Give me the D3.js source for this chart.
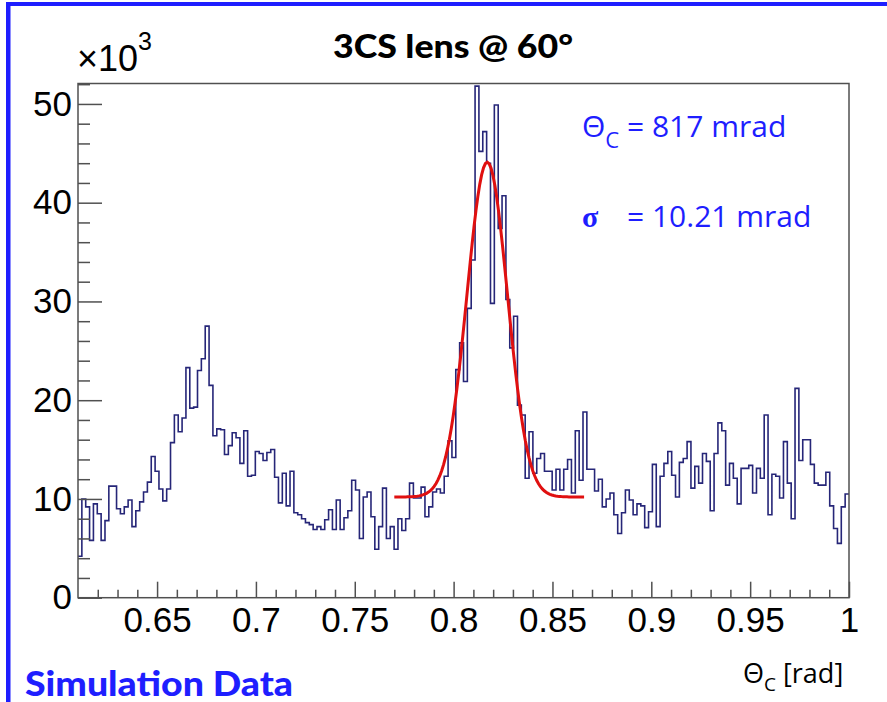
<!DOCTYPE html>
<html>
<head>
<meta charset="utf-8">
<script src="https://cdn.jsdelivr.net/npm/d3@7"></script>
<style>
  html, body { margin: 0; padding: 0; background: #ffffff; }
  svg { display: block; }
</style>
</head>
<body>
<svg id="chart" width="887" height="702"></svg>
<script>
// ---------------- data ----------------
const histRange = [0.61, 1.0];          // histogram x range [rad], 200 bins
const counts = [                          // entries per bin (x10^3)
  4.2, 10.0, 9.2, 5.8, 9.5, 8.5, 5.8, 7.8, 11.3, 11.3,
  9.0, 8.5, 9.2, 9.9, 7.2, 8.8, 9.7, 10.7, 11.7, 14.3,
  12.8, 11.0, 9.8, 11.0, 15.7, 18.5, 16.8, 18.2, 23.3, 19.2,
  19.3, 23.0, 24.2, 27.5, 21.5, 16.4, 17.1, 17.0, 14.5, 15.4,
  16.7, 16.2, 13.6, 16.9, 12.3, 12.4, 14.8, 14.6, 13.9, 14.7,
  15.0, 12.2, 9.6, 12.6, 9.3, 12.8, 8.6, 8.4, 8.0, 7.6,
  7.4, 6.9, 7.2, 6.9, 7.9, 8.9, 6.9, 9.9, 6.9, 8.1,
  8.8, 11.9, 10.9, 6.0, 10.2, 10.7, 8.2, 4.9, 7.2, 11.1,
  6.0, 7.2, 4.9, 8.0, 6.8, 8.0, 11.6, 10.1, 10.1, 11.2,
  8.2, 9.2, 10.7, 11.0, 10.6, 12.3, 15.9, 14.2, 23.1, 25.8,
  21.9, 29.3, 34.2, 51.8, 45.2, 47.2, 44.0, 29.8, 49.9, 37.4,
  40.7, 30.2, 25.3, 28.5, 19.5, 18.5, 12.1, 16.8, 12.6, 14.1,
  14.6, 12.8, 12.8, 10.9, 13.0, 10.9, 13.0, 14.0, 10.6, 16.9,
  11.9, 18.8, 13.0, 13.0, 10.8, 12.0, 9.2, 10.0, 10.6, 8.4,
  6.5, 8.6, 10.9, 9.9, 8.4, 9.5, 9.3, 7.1, 8.7, 13.5,
  7.2, 12.3, 13.6, 14.8, 12.4, 10.2, 13.7, 14.1, 15.8, 11.1,
  13.3, 11.6, 14.6, 13.8, 8.8, 14.6, 17.7, 16.9, 11.4, 13.6,
  12.1, 9.5, 13.1, 13.1, 13.4, 10.6, 13.1, 12.1, 18.5, 8.4,
  12.5, 12.3, 10.1, 15.8, 11.6, 8.0, 21.2, 13.9, 16.0, 16.0,
  13.5, 11.6, 11.4, 11.4, 12.7, 9.3, 7.0, 5.5, 9.2, 10.5
];
const xTickValues = [0.65, 0.7, 0.75, 0.8, 0.85, 0.9, 0.95, 1.0];
const xTickLabels = ["0.65", "0.7", "0.75", "0.8", "0.85", "0.9", "0.95", "1"];
const yTickValues = [0, 10, 20, 30, 40, 50];
const yTickLabels = ["0", "10", "20", "30", "40", "50"];
const yMax = 52.07;
const fitMean = 0.817, fitSigma = 0.01021, fitPeak = 33.9, fitBase = 10.2;
const fitRange = [0.77, 0.866];
const titleText = "3CS lens @ 60°";
const labelTheta = "= 817 mrad";
const labelSigma = "= 10.21 mrad";
const footerText = "Simulation Data";

// ---------------- layout ----------------
const svg = d3.select("#chart");
const L = 78, R = 849, T = 83.5, B = 597.7;
const blue = "#1e1eff";
const x = d3.scaleLinear().domain(histRange).range([L, R]);
const y = d3.scaleLinear().domain([0, yMax]).range([B, T]);

svg.append("rect").attr("width", 887).attr("height", 702).attr("fill", "#fff");

// blue slide border
svg.append("rect").attr("x", 6).attr("y", 2).attr("width", 881).attr("height", 4).attr("fill", blue);
svg.append("rect").attr("x", 6).attr("y", 2).attr("width", 4.5).attr("height", 700).attr("fill", blue);

// histogram
const nb = counts.length;
const bw = (histRange[1] - histRange[0]) / nb;
const stepPts = counts.map((c, i) => [histRange[0] + i * bw, c]);
stepPts.push([histRange[1], counts[nb - 1]]);
const stepLine = d3.line().x(d => x(d[0])).y(d => y(d[1])).curve(d3.curveStepAfter);
svg.append("path").attr("d", stepLine(stepPts))
  .attr("fill", "none").attr("stroke", "#262678").attr("stroke-width", 1.6);

// fit curve
const fitX = d3.range(0, 101).map(k => fitRange[0] + k * (fitRange[1] - fitRange[0]) / 100);
const fitPts = fitX.map(v => [v, fitBase + fitPeak * Math.exp(-0.5 * Math.pow((v - fitMean) / fitSigma, 2))]);
svg.append("path").attr("d", d3.line().x(d => x(d[0])).y(d => y(d[1]))(fitPts))
  .attr("fill", "none").attr("stroke", "#e01010").attr("stroke-width", 3);

// axes
const axisColor = "#505050";
const tickFont = "'Liberation Sans', Arial, Helvetica, sans-serif";

svg.append("g").attr("transform", `translate(${L},0)`)
  .call(d3.axisLeft(y).tickValues(yTickValues).tickSize(-24).tickPadding(6)
    .tickFormat((d, i) => yTickLabels[i]));
const yMinorVals = d3.range(0, 53, 2).filter(v => v % 10 !== 0 && v <= yMax);
svg.append("g").attr("transform", `translate(${L},0)`)
  .call(d3.axisLeft(y).tickValues(yMinorVals).tickSize(-12).tickFormat(""));

svg.append("g").attr("transform", `translate(0,${B})`)
  .call(d3.axisBottom(x).tickValues(xTickValues).tickSize(-16).tickPadding(9)
    .tickFormat((d, i) => xTickLabels[i]));
const xMinorVals = d3.range(62, 100).map(v => v / 100).filter(v => Math.round(v * 100) % 5 !== 0);
svg.append("g").attr("transform", `translate(0,${B})`)
  .call(d3.axisBottom(x).tickValues(xMinorVals).tickSize(-8).tickFormat(""));

svg.selectAll(".domain").remove();
svg.selectAll(".tick line").attr("stroke", axisColor).attr("stroke-width", 1.5);
svg.selectAll(".tick text").attr("fill", "#000").style("font-family", tickFont).style("font-size", "35px");

// frame
svg.append("rect").attr("x", L).attr("y", T).attr("width", R - L).attr("height", B - T)
  .attr("fill", "none").attr("stroke", axisColor).attr("stroke-width", 1.5);

// x10^3 multiplier
const mult = svg.append("text").attr("x", 77).attr("y", 71)
  .style("font-family", tickFont).style("font-size", "36px").attr("fill", "#000");
mult.append("tspan").text("×10");
mult.append("tspan").attr("dy", -21).style("font-size", "25px").text("3");

// title
svg.append("text").attr("x", 333).attr("y", 58)
  .attr("textLength", 240).attr("lengthAdjust", "spacingAndGlyphs")
  .style("font-family", "Lato, 'Open Sans', sans-serif").style("font-weight", "900")
  .style("font-size", "33px").attr("fill", "#000").text(titleText);

// fit annotations
const annFont = "'Open Sans', 'Noto Sans', sans-serif";
const a1 = svg.append("text").attr("x", 582).attr("y", 137)
  .style("font-family", annFont).style("font-size", "30px").attr("fill", blue);
a1.append("tspan").text("Θ");
a1.append("tspan").attr("dy", 11).style("font-size", "22px").text("C");
a1.append("tspan").attr("dy", -11).text(" " + labelTheta);

svg.append("text").attr("x", 582).attr("y", 227)
  .style("font-family", "'Liberation Serif', 'DejaVu Serif', serif").style("font-weight", "bold")
  .style("font-size", "30px").attr("fill", blue).text("σ");
svg.append("text").attr("x", 627).attr("y", 227)
  .style("font-family", annFont).style("font-size", "30px").attr("fill", blue).text(labelSigma);

// x axis title
const xt = svg.append("text").attr("x", 743).attr("y", 683)
  .style("font-family", annFont).style("font-size", "27px").attr("fill", "#000");
xt.append("tspan").text("Θ");
xt.append("tspan").attr("dy", 8).style("font-size", "19px").text("C");
xt.append("tspan").attr("dy", -8).text(" [rad]");

// footer
svg.append("text").attr("x", 25).attr("y", 696)
  .attr("textLength", 268).attr("lengthAdjust", "spacingAndGlyphs")
  .style("font-family", "Lato, 'Open Sans', sans-serif").style("font-weight", "900")
  .style("font-size", "34px").attr("fill", blue).text(footerText);
</script>
</body>
</html>
